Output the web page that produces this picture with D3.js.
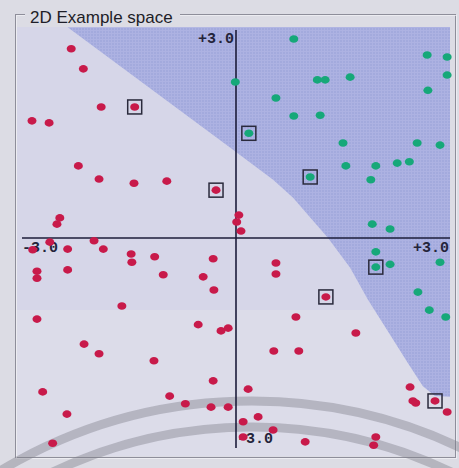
<!DOCTYPE html>
<html>
<head>
<meta charset="utf-8">
<script src="https://cdn.jsdelivr.net/npm/d3@7"></script>
<style>
  html, body { margin: 0; padding: 0; background: #dcdce4; }
  svg { display: block; }
</style>
</head>
<body>
<div id="chart"></div>
<script>
// class A samples (red), data units
const redX = [-2.31, -2.14, -1.89, -1.42, -2.86, -2.62, -2.21, -1.92, -1.43, -0.97,
  -0.28, -2.47, -2.51, 0.04, 0.01, 0.07, -2.61, -1.99, -2.85, -2.36,
  -1.86, -1.47, -1.46, -1.14, -0.32, -2.79, -2.79, -2.36, -1.02, -0.46,
  -0.31, -1.60, 0.56, 0.56, 1.26, -2.79, -0.53, -0.21, -0.11, -2.13,
  -1.92, -1.15, -0.32, -2.71, -0.93, -0.71, -0.35, -0.11, -2.37, -2.57,
  0.84, 1.68, 0.53, 0.88, 0.17, 2.44, 2.48, 2.52, 2.79, 2.96,
  0.31, 0.10, 0.52, 0.10, 0.97, 1.96, 1.93];
const redY = [2.73, 2.44, 1.89, 1.89, 1.69, 1.66, 1.04, 0.85, 0.79, 0.82,
  0.69, 0.29, 0.20, 0.33, 0.23, 0.10, -0.06, -0.04, -0.17, -0.16,
  -0.16, -0.23, -0.35, -0.27, -0.30, -0.48, -0.58, -0.46, -0.53, -0.56,
  -0.75, -0.98, -0.36, -0.52, -0.85, -1.17, -1.25, -1.34, -1.30, -1.53,
  -1.67, -1.77, -2.06, -2.22, -2.28, -2.39, -2.44, -2.44, -2.54, -2.96,
  -1.14, -1.37, -1.63, -1.63, -2.18, -2.15, -2.35, -2.38, -2.35, -2.51,
  -2.58, -2.65, -2.77, -2.87, -2.94, -2.87, -2.99];

// class B samples (green), data units
const greenX = [-0.01, 0.81, 2.68, 2.96, 2.96, 2.69, 1.14, 1.25, 1.60, 0.56,
  0.81, 1.18, 0.18, 1.50, 2.54, 2.86, 1.04, 1.54, 1.96, 2.26,
  2.43, 1.89, 1.91, 2.16, 1.96, 1.96, 2.16, 2.86, 2.55, 2.71, 2.94];
const greenY = [2.25, 2.87, 2.64, 2.61, 2.35, 2.13, 2.28, 2.28, 2.32, 2.02,
  1.76, 1.77, 1.51, 1.37, 1.37, 1.34, 0.88, 1.04, 1.04, 1.08,
  1.10, 0.84, 0.20, 0.13, -0.20, -0.42, -0.38, -0.35, -0.78, -1.04, -1.14];

// support vectors (indices into the arrays above)
const redSupport = [3, 10, 34, 58];
const greenSupport = [12, 16, 25];

// edge of the class B (blue) region, from top to right side
const boundaryX = [-2.36, -0.08, 0.52, 0.80, 1.29, 1.60, 1.85, 2.12, 2.40, 2.62, 2.79, 3.00];
const boundaryY = [3.04, 1.30, 0.84, 0.58, 0.00, -0.43, -0.89, -1.33, -1.79, -2.14, -2.28, -2.29];

const axisRange = [-3.0, 3.0];
const title = '2D Example space';

const width = 459;
const height = 468;
const plot = { left: 17, top: 27, right: 450, bottom: 456 };

const svg = d3.select('#chart').append('svg')
  .attr('width', width)
  .attr('height', height)
  .style('background-color', '#dcdce4');

const x = d3.scaleLinear().domain(axisRange).range([22, 450]);
const y = d3.scaleLinear().domain(axisRange).range([446, 30]);

const fmt = d3.formatLocale({ decimal: '.', thousands: ',', grouping: [3], currency: ['', ''], minus: '-' }).format('+.1f');

// dithered fill like the original raster
const defs = svg.append('defs');
const pat = defs.append('pattern')
  .attr('id', 'dither')
  .attr('width', 3).attr('height', 3)
  .attr('patternUnits', 'userSpaceOnUse');
pat.append('rect').attr('width', 3).attr('height', 3).attr('fill', '#a3aadd');
pat.append('rect').attr('width', 3).attr('height', 1).attr('fill', '#adb2e2');
pat.append('rect').attr('width', 1).attr('height', 3).attr('fill', '#adb2e2');

// group box frame
svg.append('rect')
  .attr('x', 15.5).attr('y', 14.5)
  .attr('width', 440).attr('height', 443)
  .attr('fill', 'none')
  .attr('stroke', '#8e8e9a');
svg.append('rect')
  .attr('x', 16.5).attr('y', 15.5)
  .attr('width', 440).attr('height', 443)
  .attr('fill', 'none')
  .attr('stroke', '#f2f2f6')
  .attr('stroke-opacity', 0.7);

// plot background
svg.append('rect')
  .attr('x', plot.left).attr('y', plot.top)
  .attr('width', plot.right - plot.left).attr('height', plot.bottom - plot.top)
  .attr('fill', '#d6d6e8');
svg.append('rect')
  .attr('x', plot.left).attr('y', 310)
  .attr('width', plot.right - plot.left).attr('height', plot.bottom - 310)
  .attr('fill', '#dcdce9');

// class B region
const regionPts = boundaryX.map((d, i) => [x(d), y(boundaryY[i])]);
regionPts.push([plot.right, plot.top]);
svg.append('path')
  .attr('d', d3.line()(regionPts) + 'Z')
  .attr('fill', 'url(#dither)');

// title over the frame line
svg.append('rect')
  .attr('x', 25).attr('y', 8)
  .attr('width', 155).attr('height', 14)
  .attr('fill', '#dcdce4');
svg.append('text')
  .attr('x', 30).attr('y', 23)
  .attr('font-family', 'Liberation Sans, Arial, sans-serif')
  .attr('font-size', 17)
  .attr('fill', '#1e1e28')
  .text(title);

// scanner shadows
const arcs = svg.append('g')
  .attr('fill', 'none')
  .attr('stroke', '#7e7e8a')
  .attr('stroke-opacity', 0.42)
  .attr('stroke-width', 9);
[489, 463].forEach(r => {
  const p = d3.path();
  p.arc(252, 890, r, Math.PI * 1.2, Math.PI * 1.8);
  arcs.append('path').attr('d', p.toString());
});

// axes through the origin
const axes = svg.append('g')
  .attr('stroke', '#1c1c3a')
  .attr('stroke-width', 1.6);
axes.append('line')
  .attr('x1', x(axisRange[0])).attr('x2', x(axisRange[1]))
  .attr('y1', y(0)).attr('y2', y(0));
axes.append('line')
  .attr('x1', x(0)).attr('x2', x(0))
  .attr('y1', y(axisRange[1])).attr('y2', y(axisRange[0]) + 2);

const labels = svg.append('g')
  .attr('font-family', 'Liberation Mono, Courier New, monospace')
  .attr('font-weight', 'bold')
  .attr('font-size', 15)
  .attr('fill', '#24243a');
labels.append('text')
  .attr('x', x(0) - 2).attr('y', y(axisRange[1]) + 13)
  .attr('text-anchor', 'end')
  .text(fmt(axisRange[1]));
labels.append('text')
  .attr('x', x(0) + 1).attr('y', y(axisRange[0]) - 3)
  .text(fmt(axisRange[0]));
labels.append('text')
  .attr('x', x(axisRange[0])).attr('y', y(0) + 14)
  .text(fmt(axisRange[0]));
labels.append('text')
  .attr('x', x(axisRange[1]) - 1).attr('y', y(0) + 14)
  .attr('text-anchor', 'end')
  .text(fmt(axisRange[1]));

// samples
const red = redX.map((d, i) => ({ x: d, y: redY[i] }));
const green = greenX.map((d, i) => ({ x: d, y: greenY[i] }));

svg.append('g').selectAll('ellipse')
  .data(red)
  .enter().append('ellipse')
  .attr('cx', d => x(d.x))
  .attr('cy', d => y(d.y))
  .attr('rx', 4.5).attr('ry', 3.8)
  .attr('fill', '#c81a4a');

svg.append('g').selectAll('ellipse')
  .data(green)
  .enter().append('ellipse')
  .attr('cx', d => x(d.x))
  .attr('cy', d => y(d.y))
  .attr('rx', 4.5).attr('ry', 3.8)
  .attr('fill', '#16a879');

// boxes round the support vectors
const support = redSupport.map(i => red[i]).concat(greenSupport.map(i => green[i]));
svg.append('g').selectAll('rect')
  .data(support)
  .enter().append('rect')
  .attr('x', d => x(d.x) - 7)
  .attr('y', d => y(d.y) - 7)
  .attr('width', 14).attr('height', 14)
  .attr('fill', 'none')
  .attr('stroke', '#2a2a3c')
  .attr('stroke-width', 1.5);
</script>
</body>
</html>
